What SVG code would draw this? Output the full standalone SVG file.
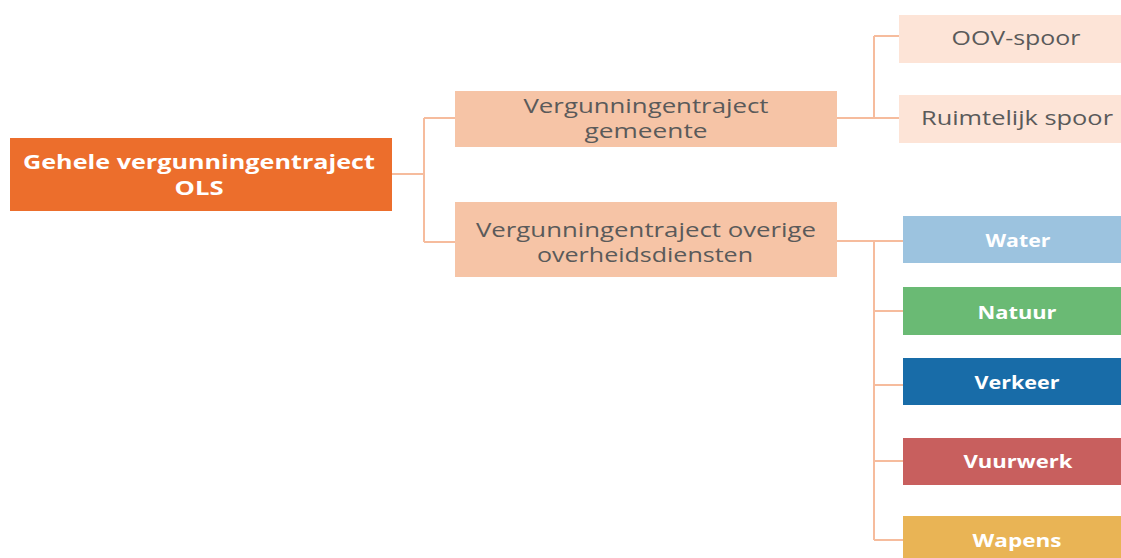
<svg xmlns="http://www.w3.org/2000/svg" width="1121" height="558" viewBox="0 0 1121 558">
<style>
text{font-family:"Open Sans","Liberation Sans",sans-serif;text-anchor:middle}
.dark{fill:#5a5a5a;font-size:20px}
.white{fill:#ffffff;font-weight:bold;font-size:18px}
.root{fill:#ffffff;font-weight:bold;font-size:20px}
.conn{fill:none;stroke:#f6bc9d;stroke-width:2}
</style>
<rect width="1121" height="558" fill="#ffffff"/>
<g id="connectors" class="conn">
<path d="M392 174 H424 M424 118 V242 M424 118 H455 M424 242 H455"/>
<path d="M837 118 H874 M874 36 V118 M874 36 H899 M874 118 H899"/>
<path d="M837 241 H903 M874 241 V540 M874 311 H903 M874 385 H903 M874 461 H903 M874 540 H903"/>
</g>
<g id="root">
<rect x="10" y="138" width="382" height="73" fill="#ec6e2c"/>
<text class="root" x="199" y="169" textLength="352" lengthAdjust="spacingAndGlyphs">Gehele vergunningentraject</text>
<text class="root" x="199" y="195" textLength="49" lengthAdjust="spacingAndGlyphs">OLS</text>
</g>
<g id="gemeente">
<rect x="455" y="91" width="382" height="56" fill="#f6c4a6"/>
<text class="dark" x="646" y="113" textLength="245" lengthAdjust="spacingAndGlyphs">Vergunningentraject</text>
<text class="dark" x="646" y="138" textLength="123" lengthAdjust="spacingAndGlyphs">gemeente</text>
</g>
<g id="overige">
<rect x="455" y="202" width="382" height="75" fill="#f6c4a6"/>
<text class="dark" x="646" y="236.5" textLength="340" lengthAdjust="spacingAndGlyphs">Vergunningentraject overige</text>
<text class="dark" x="645" y="261.5" textLength="216" lengthAdjust="spacingAndGlyphs">overheidsdiensten</text>
</g>
<g id="oov">
<rect x="899" y="15" width="222" height="48" fill="#fde4d7"/>
<text class="dark" x="1016" y="45" textLength="129" lengthAdjust="spacingAndGlyphs">OOV-spoor</text>
</g>
<g id="ruimtelijk">
<rect x="899" y="95" width="222" height="48" fill="#fde4d7"/>
<text class="dark" x="1017" y="125" textLength="192" lengthAdjust="spacingAndGlyphs">Ruimtelijk spoor</text>
</g>
<g id="water">
<rect x="903" y="216" width="218" height="47" fill="#9cc3df"/>
<text class="white" x="1018" y="247" textLength="65" lengthAdjust="spacingAndGlyphs">Water</text>
</g>
<g id="natuur">
<rect x="903" y="287" width="218" height="48" fill="#6aba74"/>
<text class="white" x="1017" y="319" textLength="79" lengthAdjust="spacingAndGlyphs">Natuur</text>
</g>
<g id="verkeer">
<rect x="903" y="358" width="218" height="47" fill="#186ca8"/>
<text class="white" x="1017" y="389" textLength="85" lengthAdjust="spacingAndGlyphs">Verkeer</text>
</g>
<g id="vuurwerk">
<rect x="903" y="438" width="218" height="47" fill="#c85f5e"/>
<text class="white" x="1018" y="468" textLength="109" lengthAdjust="spacingAndGlyphs">Vuurwerk</text>
</g>
<g id="wapens">
<rect x="903" y="516" width="218" height="42" fill="#e9b455"/>
<text class="white" x="1017" y="547" textLength="89" lengthAdjust="spacingAndGlyphs">Wapens</text>
</g>
</svg>
